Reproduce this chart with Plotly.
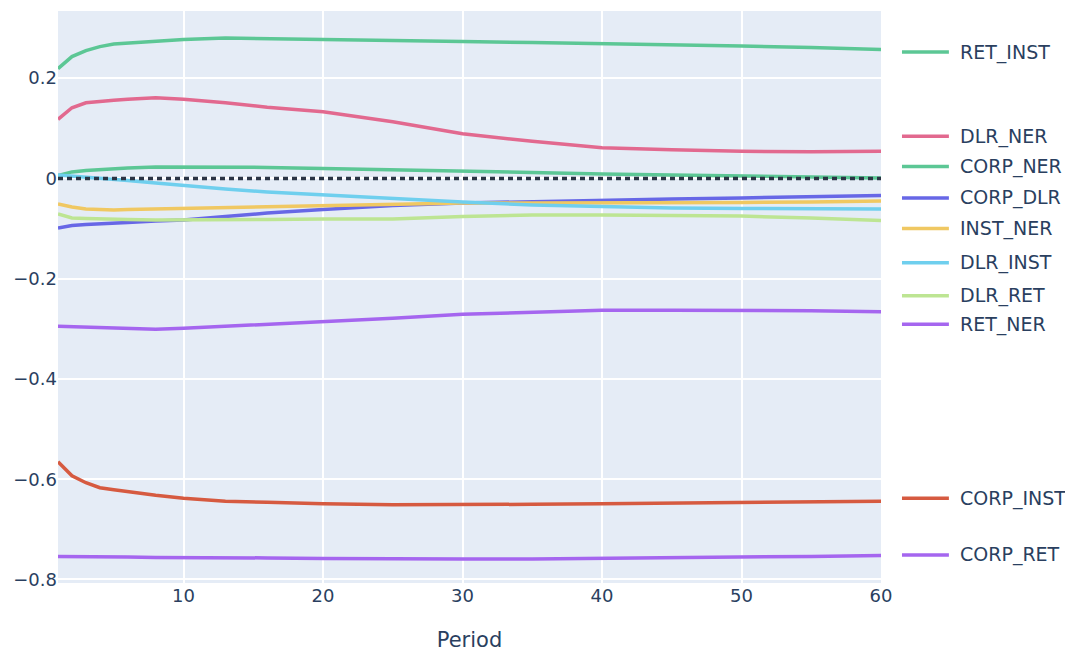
import plotly.graph_objects as go

periods = [1, 2, 3, 4, 5, 6, 8, 10, 13, 16, 20, 25, 30, 35, 40, 45, 50, 55, 60]

ret_inst = [0.219, 0.243, 0.255, 0.263, 0.268, 0.270, 0.274, 0.277, 0.280, 0.279, 0.278, 0.275, 0.273, 0.271, 0.269, 0.267, 0.264, 0.261, 0.257]
dlr_ner = [0.118, 0.141, 0.151, 0.154, 0.156, 0.158, 0.161, 0.158, 0.151, 0.142, 0.133, 0.113, 0.089, 0.074, 0.061, 0.057, 0.054, 0.053, 0.054]
corp_ner = [0.006, 0.013, 0.016, 0.018, 0.020, 0.021, 0.023, 0.023, 0.023, 0.022, 0.020, 0.017, 0.015, 0.012, 0.009, 0.007, 0.005, 0.003, 0.001]
corp_dlr = [-0.099, -0.094, -0.092, -0.091, -0.089, -0.088, -0.085, -0.083, -0.076, -0.069, -0.062, -0.054, -0.049, -0.046, -0.044, -0.041, -0.039, -0.036, -0.034]
inst_ner = [-0.051, -0.057, -0.061, -0.062, -0.063, -0.062, -0.061, -0.059, -0.057, -0.056, -0.054, -0.051, -0.049, -0.049, -0.049, -0.049, -0.048, -0.047, -0.045]
dlr_inst = [0.007, 0.005, 0.003, 0.001, -0.001, -0.004, -0.009, -0.014, -0.021, -0.027, -0.033, -0.041, -0.047, -0.053, -0.056, -0.059, -0.060, -0.061, -0.061]
dlr_ret = [-0.071, -0.079, -0.080, -0.081, -0.082, -0.082, -0.083, -0.083, -0.082, -0.082, -0.081, -0.081, -0.076, -0.073, -0.073, -0.074, -0.075, -0.079, -0.084]
ret_ner = [-0.295, -0.296, -0.297, -0.298, -0.298, -0.299, -0.301, -0.299, -0.295, -0.292, -0.287, -0.279, -0.271, -0.267, -0.263, -0.263, -0.263, -0.264, -0.266]
corp_inst = [-0.565, -0.593, -0.607, -0.617, -0.621, -0.625, -0.632, -0.638, -0.644, -0.646, -0.649, -0.651, -0.651, -0.650, -0.649, -0.648, -0.647, -0.646, -0.644]
corp_ret = [-0.754, -0.754, -0.755, -0.755, -0.755, -0.755, -0.756, -0.756, -0.757, -0.757, -0.758, -0.759, -0.759, -0.759, -0.758, -0.757, -0.756, -0.754, -0.752]

names = ["RET_INST", "DLR_NER", "CORP_NER", "CORP_DLR", "INST_NER",
         "DLR_INST", "DLR_RET", "RET_NER", "CORP_INST", "CORP_RET"]
series = [ret_inst, dlr_ner, corp_ner, corp_dlr, inst_ner,
          dlr_inst, dlr_ret, ret_ner, corp_inst, corp_ret]
colors = ["#5cc795", "#e2698f", "#5cc795", "#6767e6", "#f0c862",
          "#6fcfee", "#bde593", "#a566ef", "#d65a40", "#a566ef"]
# label positions (in y data units) for the right-hand labels
label_y = [0.252, 0.084, 0.024, -0.039, -0.100, -0.168, -0.234, -0.291, -0.638, -0.751]

FONT = "DejaVu Sans, Verdana, sans-serif"

fig = go.Figure()
for name, vals, col in zip(names, series, colors):
    fig.add_trace(go.Scatter(x=periods, y=vals, mode="lines", name=name,
                             line=dict(color=col, width=3.5),
                             showlegend=False))

fig.add_hline(y=0, line=dict(color="#2a3444", width=3.5, dash="5px,4px"))

for name, ly, col in zip(names, label_y, colors):
    fig.add_shape(type="line", xref="paper", yref="y", x0=1.0255, x1=1.0825,
                  y0=ly, y1=ly, line=dict(color=col, width=3.5))
    fig.add_annotation(x=1.094, y=ly, xref="paper", yref="y", text=name,
                       showarrow=False, xanchor="left", yanchor="middle",
                       font=dict(size=19, color="#2a3f5f", family=FONT))

fig.update_layout(
    width=1065, height=644,
    template="plotly",
    margin=dict(l=50, r=192, t=3, b=69),
    font=dict(size=18, family=FONT),
    xaxis=dict(range=[1, 60], tickvals=[10, 20, 30, 40, 50, 60], gridwidth=1.5,
               title=dict(text="Period", font=dict(size=21), standoff=28)),
    yaxis=dict(range=[-0.807, 0.334], dtick=0.2, zeroline=False, gridwidth=1.5),
)

fig.write_html("out.html")
